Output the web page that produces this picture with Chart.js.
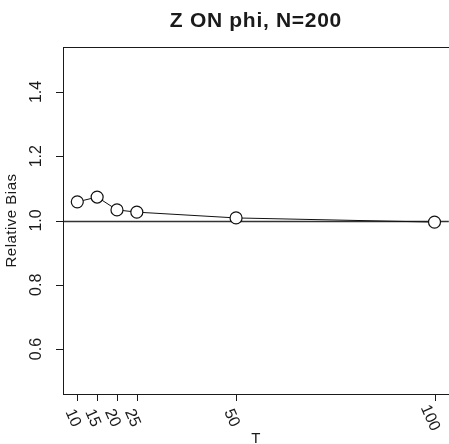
<!DOCTYPE html>
<html>
<head>
<meta charset="utf-8">
<script src="https://cdn.jsdelivr.net/npm/chart.js@4/dist/chart.umd.min.js"></script>
<style>
  html, body { margin: 0; padding: 0; background: #fff; overflow: hidden; }
  #wrap { width: 449px; height: 444px; overflow: hidden; }
</style>
</head>
<body>
<div id="wrap"><canvas id="bias" width="456" height="444"></canvas></div>
<script>
// relative bias of Z on phi, N = 200
var tValues = [10, 15, 20, 25, 50, 100];
var relBias = [1.058, 1.073, 1.033, 1.026, 1.008, 0.995];
var xTicks = [10, 15, 20, 25, 50, 100];
var yTicks = [0.6, 0.8, 1.0, 1.2, 1.4];
var yTickLabels = ['0.6', '0.8', '1.0', '1.2', '1.4'];
var refLevel = 1.0;
var titleText = 'Z ON phi, N=200';
var xTitle = 'T';
var yTitle = 'Relative Bias';

var FONT = '"Liberation Sans", Arial, Helvetica, sans-serif';
var INK = '#1a1a1a';

function txt(ctx, s, x, y, rot, font, align, base, spacing) {
  ctx.save();
  ctx.translate(x, y);
  ctx.rotate(rot || 0);
  ctx.font = font;
  ctx.letterSpacing = (spacing || 0) + 'px';
  ctx.fillStyle = INK;
  ctx.textAlign = align || 'center';
  ctx.textBaseline = base || 'middle';
  ctx.fillText(s, 0, 0);
  ctx.restore();
}

// base-graphics style frame: box, ticks, rotated labels, abline at 1
var rFrame = {
  id: 'rFrame',
  beforeDatasetsDraw: function(chart) {
    var ctx = chart.ctx, a = chart.chartArea, ys = chart.scales.y;
    var yr = Math.round(ys.getPixelForValue(refLevel)) + 0.5;
    ctx.save();
    ctx.strokeStyle = '#333';
    ctx.lineWidth = 1.3;
    ctx.beginPath();
    ctx.moveTo(a.left, yr);
    ctx.lineTo(a.right, yr);
    ctx.stroke();
    ctx.restore();
  },
  afterDatasetsDraw: function(chart) {
    var ctx = chart.ctx, a = chart.chartArea;
    var xs = chart.scales.x, ys = chart.scales.y;
    ctx.save();
    ctx.strokeStyle = INK;
    ctx.lineWidth = 1;
    ctx.strokeRect(Math.round(a.left) + 0.5, Math.round(a.top) + 0.5,
      Math.round(a.right - a.left), Math.round(a.bottom - a.top));

    ctx.beginPath();
    xTicks.forEach(function(t) {
      var px = Math.round(xs.getPixelForValue(t)) + 0.5;
      ctx.moveTo(px, a.bottom);
      ctx.lineTo(px, a.bottom + 7);
    });
    yTicks.forEach(function(v) {
      var py = Math.round(ys.getPixelForValue(v)) + 0.5;
      ctx.moveTo(a.left, py);
      ctx.lineTo(a.left - 7, py);
    });
    ctx.stroke();
    ctx.restore();

    xTicks.forEach(function(t) {
      txt(ctx, String(t), xs.getPixelForValue(t) - 4.5, a.bottom + 24,
        66 * Math.PI / 180, '16px ' + FONT);
    });
    yTicks.forEach(function(v, i) {
      txt(ctx, yTickLabels[i], 37, ys.getPixelForValue(v), -Math.PI / 2, '16px ' + FONT);
    });

    txt(ctx, titleText, (a.left + a.right) / 2, 27, 0, 'bold 21px ' + FONT, 'center', 'alphabetic', 0.7);
    txt(ctx, xTitle, (a.left + a.right) / 2, 443, 0, '15px ' + FONT, 'center', 'alphabetic');
    txt(ctx, yTitle, 12, (a.top + a.bottom) / 2, -Math.PI / 2, '15px ' + FONT, 'center', 'middle', 0.5);
  }
};

var pts = tValues.map(function(t, i) { return { x: t, y: relBias[i] }; });

new Chart(document.getElementById('bias'), {
  type: 'line',
  data: {
    datasets: [{
      data: pts,
      borderColor: '#111',
      borderWidth: 1,
      tension: 0,
      fill: false,
      pointRadius: 6,
      pointHoverRadius: 6,
      pointBackgroundColor: '#fff',
      pointBorderColor: '#111',
      pointBorderWidth: 1.2,
      clip: false
    }]
  },
  options: {
    responsive: false,
    animation: false,
    events: [],
    layout: { padding: { left: 63, top: 47, right: 6, bottom: 50 } },
    plugins: { legend: { display: false }, title: { display: false }, tooltip: { enabled: false } },
    scales: {
      x: { type: 'linear', display: false, min: 6.4, max: 103.6 },
      y: { type: 'linear', display: false, min: 0.46, max: 1.54 }
    }
  },
  plugins: [rFrame]
});
</script>
</body>
</html>
